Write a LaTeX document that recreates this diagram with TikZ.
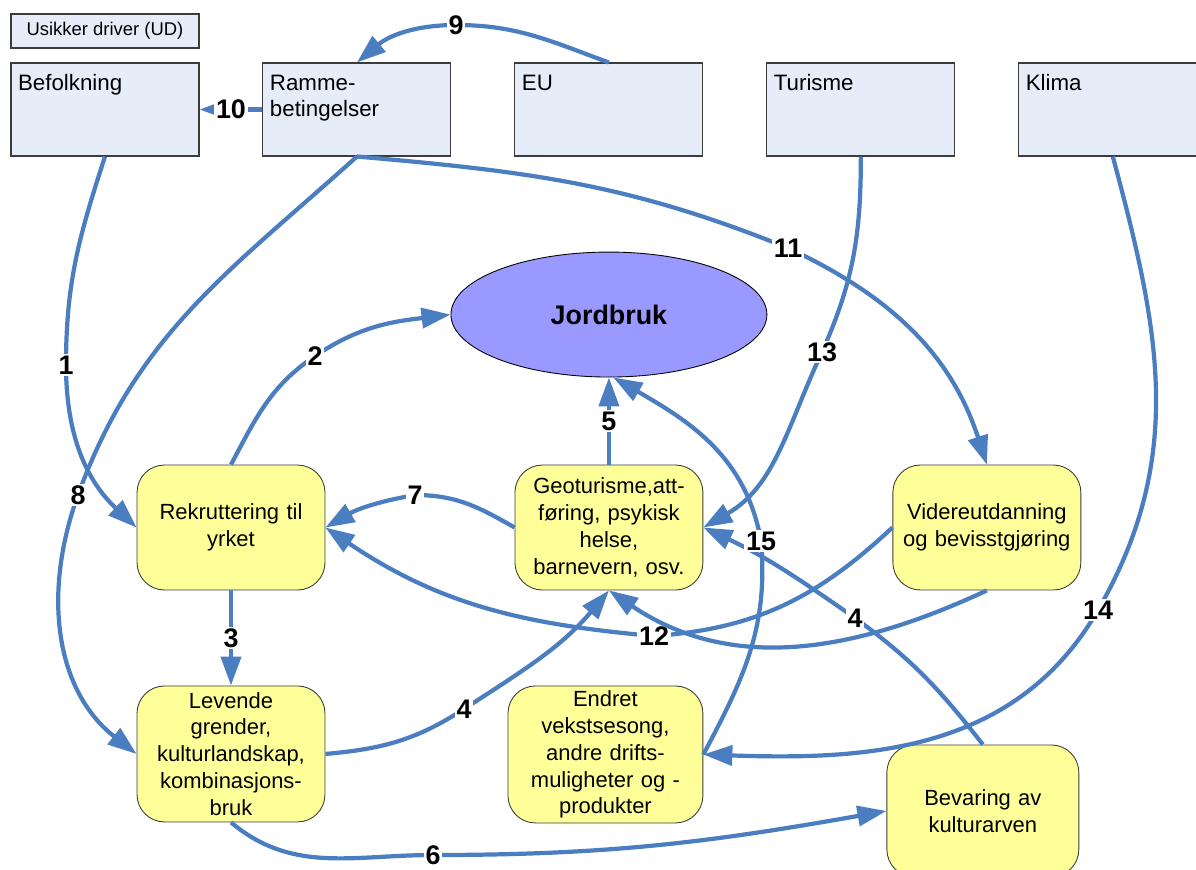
\documentclass[tikz,border=0pt]{standalone}
\usepackage{fontspec}
\setmainfont{Liberation Sans}
\usetikzlibrary{arrows.meta, positioning, shapes.geometric}
\definecolor{udfill}{RGB}{231,237,248}
\definecolor{boxline}{RGB}{60,60,60}
\definecolor{factorfill}{RGB}{255,255,153}
\definecolor{corefill}{RGB}{153,153,255}
\definecolor{flowblue}{RGB}{74,126,193}
\tikzset{
>={Triangle[length=0.58cm,width=0.4cm]}, % big solid heads
x=0.02cm, y=0.02cm, % one unit is one pixel of the sketch
node distance=5.04cm, % spacing of the driver row
driver/.style={draw=boxline, fill=udfill, line width=0.6pt, text width=3.48cm, align=left,
  inner xsep=0.14cm, inner ysep=0.2cm, text height=0.34cm, text depth=1.12cm,
  font=\fontsize{12.7}{15.3}\selectfont},
udbox/.style={draw=boxline, fill=udfill, line width=0.6pt, minimum width=3.76cm,
  minimum height=0.68cm, inner sep=0pt, font=\fontsize{10.5}{12}\selectfont},
factor/.style={draw=boxline, fill=factorfill, line width=0.5pt, rounded corners=0.55cm,
  minimum width=3.76cm, minimum height=2.5cm, text width=3.6cm, align=center,
  inner sep=0pt, font=\fontsize{12.5}{15.3}\selectfont},
core/.style={ellipse, draw, fill=corefill, line width=0.5pt, minimum width=6.32cm,
  minimum height=2.5cm, inner sep=0pt, font=\bfseries\fontsize{15.3}{18}\selectfont},
flow/.style={->, draw=flowblue, line width=2.4pt}, % the numbered relations
num/.style={fill=white, inner sep=1pt, font=\bfseries\fontsize{15.3}{18}\selectfont},
}
\begin{document}
\begin{tikzpicture}
    \useasboundingbox (0,0) rectangle (1196,-869);
    \clip (0,0) rectangle (1196,-869);

    % drivers
    \node[driver] (bef) at (105,-109.5) {Befolkning};
    \node[driver, right of=bef] (ram) {Ramme-\\betingelser};
    \node[driver, right of=ram] (eu) {EU};
    \node[driver, right of=eu] (tur) {Turisme};
    \node[driver, right of=tur] (kli) {Klima};
    \node[udbox, above of=bef, node distance=1.57cm] (ud) {Usikker driver (UD)};

    % factors
    \node[factor] (rek) at (231,-527.5) {Rekruttering til\\yrket};
    \node[factor, right of=rek, node distance=7.56cm] (geo) {Geoturisme,att-\\føring, psykisk\\helse,\\barnevern, osv.};
    \node[factor, right of=geo, node distance=7.56cm] (vid) {Videreutdanning\\og bevisstgjøring};
    \node[factor, below of=rek, node distance=4.53cm, minimum height=2.72cm] (lev) {Levende\\grender,\\kulturlandskap,\\kombinasjons-\\bruk};
    \node[factor, below of=geo, node distance=4.54cm, xshift=-0.07cm, minimum width=3.9cm, minimum height=2.74cm] (end) {Endret\\vekstsesong,\\andre drifts-\\muligheter og -\\produkter};
    \node[factor, below of=vid, node distance=5.67cm, xshift=-0.08cm, minimum width=3.84cm, minimum height=2.64cm] (bev) {Bevaring av\\kulturarven};
    \node[core, above of=geo, node distance=4.26cm] (jord) {Jordbruk};

    % relations
    \draw[flow] (bef.south) to[out=-108,in=90] (66,-365) node[num]{1} to[out=-90,in=137] (rek.west);
    \draw[flow] (rek.north) to[out=62,in=-146] (315,-356) node[num]{2} to[out=34,in=-173] (jord.west);
    \draw[flow] (rek.south) -- node[num]{3} (lev.north);
    \draw[flow] (lev.east) to[out=5,in=-147] (464,-709) node[num]{4} to[out=33,in=-130] (geo.south);
    \draw[flow] (bev.north) to[out=128,in=-36] (855,-618) node[num]{4} to[out=145,in=-25] (geo.east);
    \draw[flow] (geo.north) -- node[num]{5} (jord.south);
    \draw[flow] (lev.south) to[out=-40,in=180] (433,-855) node[num]{6} to[out=0,in=-170] (bev.west);
    \draw[flow] (geo.west) to[out=150,in=0] (415,-495) node[num]{7} to[out=190,in=30] (rek.east);
    \draw[flow] (ram.south) to[out=-138,in=70] (78,-495) node[num]{8} to[out=-110,in=142] (lev.west);
    \draw[flow] (eu.north) to[out=160,in=0] (456,-25) node[num]{9} to[out=180,in=40] (ram.north);
    \draw[flow] (ram.west) -- node[num]{10} (bef.east);
    \draw[flow] (ram.south) to[out=-5,in=158] (788,-248) node[num]{11} to[out=-25,in=108] (vid.north);
    \draw[flow] (vid.west) to[out=-137,in=4] (654,-636) node[num]{12} to[out=175,in=-34] (rek.east);
    \draw[flow] (vid.south) to[out=-155,in=-34] (geo.south);
    \draw[flow] (tur.south) to[out=-90,in=66] (822,-352) node[num]{13} to[out=-115,in=30] (geo.east);
    \draw[flow] (kli.south) to[out=-75,in=60] (1098,-610) node[num]{14} to[out=-120,in=-2] (end.east);
    \draw[flow] (end.east) to[out=62,in=-85] (761,-541) node[num]{15} to[out=100,in=-30] (jord.-86);
\end{tikzpicture}
\end{document}
